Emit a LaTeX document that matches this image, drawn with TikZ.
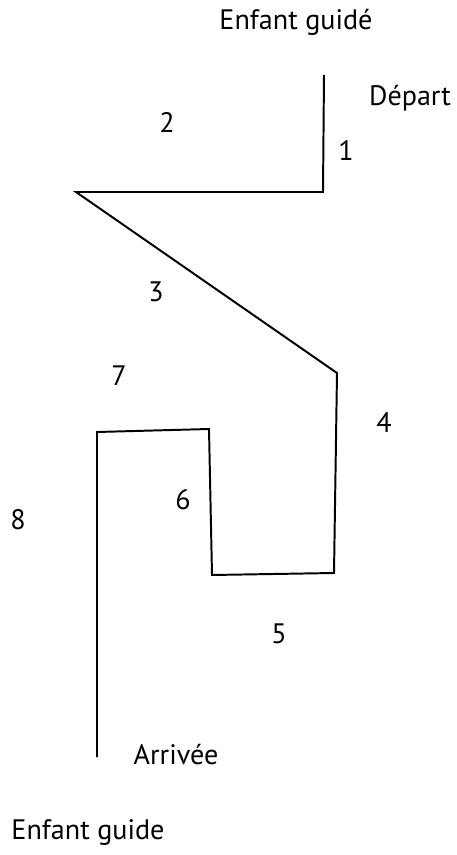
\documentclass[tikz,border=0pt]{standalone}
\usepackage{fontspec}
\setmainfont{PT Sans}
\usetikzlibrary{calc}
\tikzset{
  trajet/.style={black,line width=1.4pt,line join=miter},
  etiq/.style={font=\fontsize{20}{24}\selectfont,inner sep=0pt},
  num/.style={font=\fontsize{20}{24}\selectfont,inner sep=0pt},
}

\begin{document}
\begin{tikzpicture}[x=0.025cm,y=-0.025cm]
  \useasboundingbox (0,0) rectangle (456,855);
  % coins du trajet
  \coordinate (dep) at (324,75);
  \coordinate (c1) at (323,192);
  \coordinate (c2) at (76,192);
  \coordinate (c3) at (337,373);
  \coordinate (c4) at (334,573);
  \coordinate (c5) at (212,575);
  \coordinate (c6) at (209,429);
  \coordinate (c7) at (97,432);
  \coordinate (arr) at (97,757);
  \draw[trajet] (dep)--(c1)--(c2)--(c3)--(c4)--(c5)--(c6)--(c7)--(arr);
  % textes
  \node[etiq] (guide) at (296,22) {Enfant guidé};
  \node[etiq] (depart) at (410,98) {Départ};
  \node[etiq] (arrivee) at (176,755) {Arrivée};
  \node[etiq] (guideur) at (88,833) {Enfant guide};
  % numéros des segments
  \node[num] (n1) at (346,150) {1};
  \node[num] (n2) at (167,122) {2};
  \node[num] (n3) at (156,292) {3};
  \node[num] (n4) at (384,422) {4};
  \node[num] (n5) at (279,634) {5};
  \node[num] (n6) at (183,500) {6};
  \node[num] (n7) at (119,376) {7};
  \node[num] (n8) at (18,520) {8};
\end{tikzpicture}
\end{document}
